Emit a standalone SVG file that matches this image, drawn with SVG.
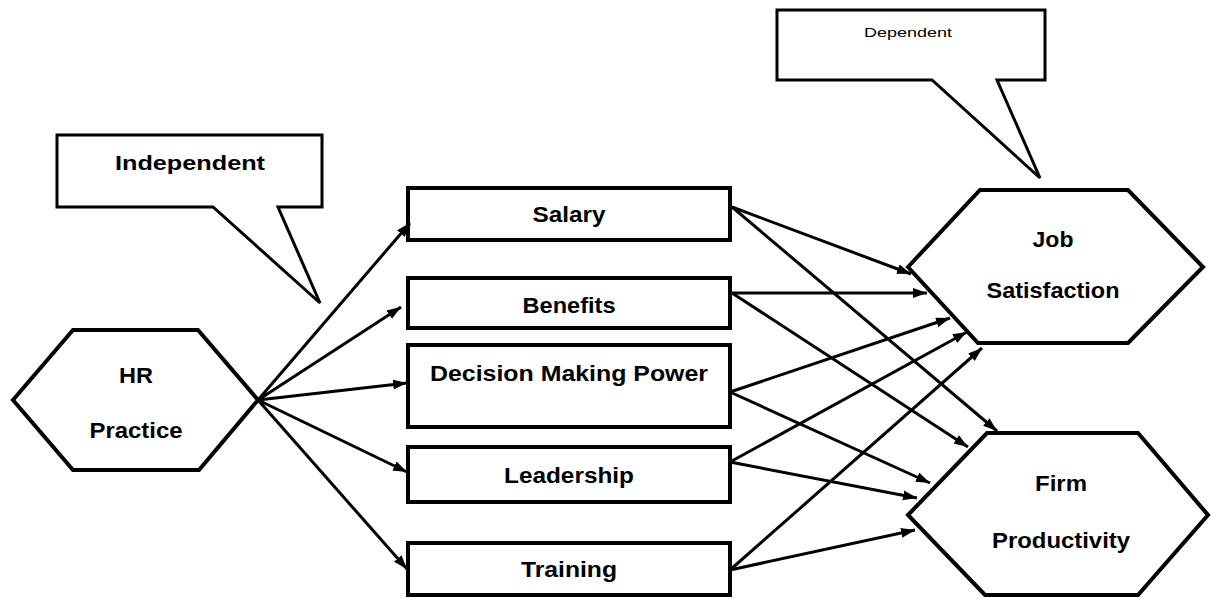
<svg xmlns="http://www.w3.org/2000/svg" width="1211" height="599" viewBox="0 0 1211 599">
<style>
.shape{fill:#fff;stroke:#000;stroke-width:4;stroke-linejoin:miter}
.callout{fill:#fff;stroke:#000;stroke-width:3;stroke-linejoin:miter}
.lbl{font-family:"Liberation Sans",Arial,sans-serif;font-weight:bold;font-size:22px;fill:#000;text-anchor:middle}
.small{font-family:"Liberation Sans",Arial,sans-serif;font-size:13px;fill:#000;text-anchor:middle}
.conn line{stroke:#000;stroke-width:3;fill:none;marker-end:url(#arr)}
</style>
<defs>
<marker id="arr" markerUnits="userSpaceOnUse" markerWidth="16" markerHeight="12" refX="14" refY="5" orient="auto">
<path d="M0,0 L14,5 L0,10 Z" fill="#000"/>
</marker>
</defs>
<rect width="1211" height="599" fill="#fff"/>

<g id="callout-independent">
<path class="callout" d="M57,135 L322,135 L322,207 L278,207 L320,303 L213,207 L57,207 Z"/>
<text class="lbl" x="190" y="170" style="font-size:21px" textLength="150" lengthAdjust="spacingAndGlyphs">Independent</text>
</g>

<g id="callout-dependent">
<path class="callout" d="M777,10 L1045,10 L1045,80 L997,80 L1040,178 L932,80 L777,80 Z"/>
<text class="small" x="908" y="37" textLength="88" lengthAdjust="spacingAndGlyphs">Dependent</text>
</g>

<g id="node-hr">
<polygon class="shape" points="13,400 73,330 198,330 258,400 199,470 73,470"/>
<text class="lbl" x="136" y="383" textLength="34" lengthAdjust="spacingAndGlyphs">HR</text>
<text class="lbl" x="136" y="438" textLength="93" lengthAdjust="spacingAndGlyphs">Practice</text>
</g>

<g id="node-salary">
<rect class="shape" x="408" y="188" width="322" height="52"/>
<text class="lbl" x="569" y="222" textLength="73" lengthAdjust="spacingAndGlyphs">Salary</text>
</g>
<g id="node-benefits">
<rect class="shape" x="408" y="278" width="322" height="50"/>
<text class="lbl" x="569" y="313" textLength="93" lengthAdjust="spacingAndGlyphs">Benefits</text>
</g>
<g id="node-decision">
<rect class="shape" x="408" y="345" width="322" height="82"/>
<text class="lbl" x="569" y="381" textLength="278" lengthAdjust="spacingAndGlyphs">Decision Making Power</text>
</g>
<g id="node-leadership">
<rect class="shape" x="408" y="447" width="322" height="55"/>
<text class="lbl" x="569" y="483" textLength="130" lengthAdjust="spacingAndGlyphs">Leadership</text>
</g>
<g id="node-training">
<rect class="shape" x="408" y="543" width="322" height="52"/>
<text class="lbl" x="569" y="577" textLength="96" lengthAdjust="spacingAndGlyphs">Training</text>
</g>

<g id="node-job">
<polygon class="shape" points="908,267 980,190 1128,190 1203,267 1128,343 978,343"/>
<text class="lbl" x="1053" y="247" textLength="41" lengthAdjust="spacingAndGlyphs">Job</text>
<text class="lbl" x="1053" y="298" textLength="133" lengthAdjust="spacingAndGlyphs">Satisfaction</text>
</g>

<g id="node-firm">
<polygon class="shape" points="908,515 987,433 1138,433 1208,515 1138,595 985,595"/>
<text class="lbl" x="1061" y="491" textLength="52" lengthAdjust="spacingAndGlyphs">Firm</text>
<text class="lbl" x="1061" y="548" textLength="138" lengthAdjust="spacingAndGlyphs">Productivity</text>
</g>

<g id="connectors" class="conn">
<line x1="258" y1="400" x2="410" y2="223"/>
<line x1="258" y1="400" x2="401" y2="307"/>
<line x1="258" y1="400" x2="407" y2="383"/>
<line x1="258" y1="400" x2="407" y2="472"/>
<line x1="258" y1="400" x2="407" y2="569"/>

<line x1="732" y1="207" x2="911" y2="274"/>
<line x1="732" y1="207" x2="997" y2="431"/>
<line x1="732" y1="293" x2="927" y2="293"/>
<line x1="732" y1="293" x2="968" y2="447"/>
<line x1="730" y1="392" x2="950" y2="318"/>
<line x1="730" y1="392" x2="930" y2="483"/>
<line x1="730" y1="462" x2="967" y2="332"/>
<line x1="730" y1="462" x2="917" y2="498"/>
<line x1="730" y1="570" x2="982" y2="348"/>
<line x1="730" y1="570" x2="915" y2="530"/>
</g>
</svg>
